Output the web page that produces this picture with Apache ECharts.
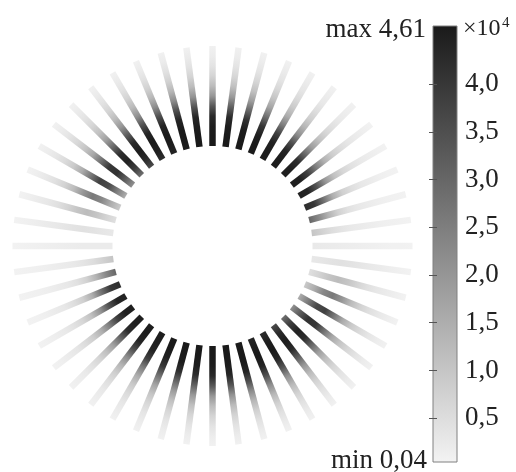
<!DOCTYPE html>
<html>
<head>
<meta charset="utf-8">
<script src="https://cdn.jsdelivr.net/npm/echarts@6/dist/echarts.min.js"></script>
<style>
html, body { margin: 0; padding: 0; background: #fff; }
#main { width: 516px; height: 472px; }
</style>
</head>
<body>
<div id="main"></div>
<script>
// spoke directions, degrees counter-clockwise from east
const angles = [0, 7.5, 15, 22.5, 30, 37.5, 45, 52.5, 60, 67.5, 75, 82.5,
    90, 97.5, 105, 112.5, 120, 127.5, 135, 142.5, 150, 157.5, 165, 172.5,
    180, 187.5, 195, 202.5, 210, 217.5, 225, 232.5, 240, 247.5, 255, 262.5,
    270, 277.5, 285, 292.5, 300, 307.5, 315, 322.5, 330, 337.5, 345, 352.5]

// sample positions along a spoke (radius axis units)
const radii = [100, 110, 120, 130, 140, 150, 160, 170, 180, 190, 200]

// value (x 10^4) at each sample, one row per spoke
const spokeValues = [
    [0.25, 0.22, 0.2, 0.18, 0.16, 0.14, 0.12, 0.1, 0.09, 0.08, 0.06],
    [1.0, 0.75, 0.5, 0.35, 0.26, 0.2, 0.16, 0.13, 0.1, 0.08, 0.06],
    [3.0, 2.3, 1.4, 0.75, 0.42, 0.28, 0.2, 0.15, 0.11, 0.08, 0.06],
    [4.2, 4.0, 2.8, 1.5, 0.8, 0.48, 0.3, 0.2, 0.13, 0.09, 0.06],
    [4.45, 4.4, 3.4, 2.0, 1.1, 0.65, 0.4, 0.25, 0.16, 0.1, 0.07],
    [4.5, 4.5, 3.8, 2.5, 1.45, 0.85, 0.52, 0.32, 0.2, 0.12, 0.07],
    [4.5, 4.5, 4.2, 3.0, 1.8, 1.1, 0.65, 0.4, 0.24, 0.14, 0.08],
    [4.55, 4.55, 4.4, 3.5, 2.2, 1.35, 0.8, 0.48, 0.28, 0.16, 0.08],
    [4.55, 4.55, 4.45, 3.8, 2.5, 1.5, 0.9, 0.55, 0.32, 0.18, 0.08],
    [4.6, 4.6, 4.5, 4.0, 2.8, 1.7, 1.0, 0.6, 0.34, 0.18, 0.08],
    [4.6, 4.6, 4.55, 4.15, 3.0, 1.85, 1.1, 0.65, 0.36, 0.18, 0.08],
    [4.6, 4.6, 4.55, 4.25, 3.15, 1.95, 1.15, 0.68, 0.37, 0.18, 0.08],
    [4.61, 4.6, 4.55, 4.3, 3.3, 2.0, 1.2, 0.7, 0.38, 0.18, 0.08],
    [4.6, 4.6, 4.55, 4.35, 3.4, 2.1, 1.25, 0.72, 0.4, 0.2, 0.08],
    [4.55, 4.6, 4.6, 4.4, 3.5, 2.2, 1.3, 0.75, 0.42, 0.2, 0.08],
    [4.4, 4.55, 4.6, 4.4, 3.5, 2.2, 1.3, 0.75, 0.42, 0.2, 0.08],
    [4.2, 4.5, 4.6, 4.35, 3.4, 2.1, 1.25, 0.72, 0.4, 0.2, 0.08],
    [3.6, 4.3, 4.55, 4.3, 3.2, 2.0, 1.2, 0.7, 0.4, 0.2, 0.08],
    [2.8, 3.9, 4.45, 4.2, 3.0, 1.8, 1.1, 0.65, 0.38, 0.2, 0.08],
    [2.1, 3.2, 4.1, 4.0, 2.8, 1.65, 1.0, 0.6, 0.35, 0.18, 0.08],
    [1.5, 2.5, 3.6, 3.8, 2.7, 1.55, 0.9, 0.55, 0.32, 0.17, 0.08],
    [0.9, 1.5, 2.3, 2.6, 2.0, 1.2, 0.72, 0.45, 0.27, 0.15, 0.07],
    [0.45, 0.7, 1.0, 1.2, 1.0, 0.7, 0.45, 0.3, 0.2, 0.12, 0.07],
    [0.28, 0.32, 0.38, 0.42, 0.38, 0.32, 0.26, 0.2, 0.15, 0.1, 0.07],
    [0.2, 0.2, 0.2, 0.2, 0.19, 0.17, 0.15, 0.13, 0.11, 0.09, 0.06],
    [1.0, 0.75, 0.5, 0.35, 0.26, 0.2, 0.16, 0.13, 0.1, 0.08, 0.06],
    [3.0, 2.3, 1.4, 0.75, 0.42, 0.28, 0.2, 0.15, 0.11, 0.08, 0.06],
    [4.2, 4.0, 2.8, 1.5, 0.8, 0.48, 0.3, 0.2, 0.13, 0.09, 0.06],
    [4.45, 4.4, 3.4, 2.0, 1.1, 0.65, 0.4, 0.25, 0.16, 0.1, 0.07],
    [4.5, 4.5, 3.8, 2.5, 1.45, 0.85, 0.52, 0.32, 0.2, 0.12, 0.07],
    [4.5, 4.5, 4.2, 3.0, 1.8, 1.1, 0.65, 0.4, 0.24, 0.14, 0.08],
    [4.55, 4.55, 4.4, 3.5, 2.2, 1.35, 0.8, 0.48, 0.28, 0.16, 0.08],
    [4.55, 4.55, 4.45, 3.8, 2.5, 1.5, 0.9, 0.55, 0.32, 0.18, 0.08],
    [4.6, 4.6, 4.5, 4.0, 2.8, 1.7, 1.0, 0.6, 0.34, 0.18, 0.08],
    [4.6, 4.6, 4.55, 4.15, 3.0, 1.85, 1.1, 0.65, 0.36, 0.18, 0.08],
    [4.6, 4.6, 4.55, 4.25, 3.15, 1.95, 1.15, 0.68, 0.37, 0.18, 0.08],
    [4.61, 4.6, 4.55, 4.3, 3.3, 2.0, 1.2, 0.7, 0.38, 0.18, 0.08],
    [4.6, 4.6, 4.55, 4.35, 3.4, 2.1, 1.25, 0.72, 0.4, 0.2, 0.08],
    [4.55, 4.6, 4.6, 4.4, 3.5, 2.2, 1.3, 0.75, 0.42, 0.2, 0.08],
    [4.4, 4.55, 4.6, 4.4, 3.5, 2.2, 1.3, 0.75, 0.42, 0.2, 0.08],
    [4.2, 4.5, 4.6, 4.35, 3.4, 2.1, 1.25, 0.72, 0.4, 0.2, 0.08],
    [3.6, 4.3, 4.55, 4.3, 3.2, 2.0, 1.2, 0.7, 0.4, 0.2, 0.08],
    [2.8, 3.9, 4.45, 4.2, 3.0, 1.8, 1.1, 0.65, 0.38, 0.2, 0.08],
    [2.1, 3.2, 4.1, 4.0, 2.8, 1.65, 1.0, 0.6, 0.35, 0.18, 0.08],
    [1.5, 2.5, 3.6, 3.8, 2.7, 1.55, 0.9, 0.55, 0.32, 0.17, 0.08],
    [0.9, 1.5, 2.3, 2.6, 2.0, 1.2, 0.72, 0.45, 0.27, 0.15, 0.07],
    [0.45, 0.7, 1.0, 1.2, 1.0, 0.7, 0.45, 0.3, 0.2, 0.12, 0.07],
    [0.28, 0.32, 0.38, 0.42, 0.38, 0.32, 0.26, 0.2, 0.15, 0.1, 0.07]
]

const colorbarTicks = [0.5, 1.0, 1.5, 2.0, 2.5, 3.0, 3.5, 4.0]
const valueMin = 0.04
const valueMax = 4.61
const grays = ['#f3f3f3', '#1a1a1a']
const serif = '"Liberation Serif", "Times New Roman", serif'

// [radius, angle, value, sample index]
const points = []
angles.forEach((a, i) => {
    radii.forEach((r, j) => {
        points.push([r, a, spokeValues[i][j], j])
    })
})

// one stroke per spoke, coloured by the visualMap colours of its samples
function renderSpoke(params, api) {
    if (api.value(3) !== 0) return null
    const first = params.dataIndexInside
    const a = api.value(1)
    const r0 = radii[0]
    const rN = radii[radii.length - 1]
    const p0 = api.coord([r0, a])
    const p1 = api.coord([rN, a])
    const stops = radii.map((r, j) => ({
        offset: (r - r0) / (rN - r0),
        color: api.visual('color', first + j)
    }))
    return {
        type: 'line',
        shape: {x1: p0[0], y1: p0[1], x2: p1[0], y2: p1[1]},
        style: {
            stroke: new echarts.graphic.LinearGradient(p0[0], p0[1], p1[0], p1[1], stops, true),
            lineWidth: 6.5,
            lineCap: 'butt'
        }
    }
}

const chart = echarts.init(document.getElementById('main'))
const tickStyle = {show: true, inside: true, length: 4, customValues: colorbarTicks, lineStyle: {color: '#555', width: 1}}

chart.setOption({
    animation: false,
    backgroundColor: '#fff',
    polar: {center: [212.5, 246], radius: 202},
    angleAxis: {type: 'value', min: 0, max: 360, startAngle: 0, clockwise: false, show: false},
    radiusAxis: {type: 'value', min: 0, max: 202, show: false},
    visualMap: {
        type: 'continuous',
        show: false,
        min: valueMin,
        max: valueMax,
        dimension: 2,
        seriesIndex: 0,
        inRange: {color: grays}
    },
    grid: {
        left: 433, top: 26, width: 24, height: 436,
        show: true,
        borderColor: '#808080',
        borderWidth: 1,
        backgroundColor: {
            type: 'linear', x: 0, y: 0, x2: 0, y2: 1,
            colorStops: [{offset: 0, color: grays[1]}, {offset: 1, color: grays[0]}]
        }
    },
    xAxis: {type: 'value', show: false, min: 0, max: 1},
    yAxis: [
        {
            type: 'value', position: 'right', min: valueMin, max: valueMax,
            axisLine: {show: false},
            splitLine: {show: false},
            axisTick: tickStyle,
            axisLabel: {
                customValues: colorbarTicks,
                formatter: v => v.toFixed(1).replace('.', ','),
                fontFamily: serif, fontSize: 27, color: '#222', margin: 8
            }
        },
        {
            type: 'value', position: 'left', min: valueMin, max: valueMax,
            axisLine: {show: false},
            splitLine: {show: false},
            axisTick: tickStyle,
            axisLabel: {show: false}
        }
    ],
    graphic: [
        {type: 'text', x: 426, y: 30, style: {text: 'max 4,61', fontFamily: serif, fontSize: 27, fill: '#222', align: 'right', verticalAlign: 'middle'}},
        {type: 'text', x: 427, y: 461, style: {text: 'min 0,04', fontFamily: serif, fontSize: 27, fill: '#222', align: 'right', verticalAlign: 'middle'}},
        {type: 'text', x: 463, y: 29, style: {text: '×10', fontFamily: serif, fontSize: 24, fill: '#222', align: 'left', verticalAlign: 'middle'}},
        {type: 'text', x: 502, y: 23, style: {text: '4', fontFamily: serif, fontSize: 15, fill: '#222', align: 'left', verticalAlign: 'middle'}}
    ],
    series: [{
        type: 'custom',
        coordinateSystem: 'polar',
        renderItem: renderSpoke,
        data: points,
        silent: true
    }]
})
window.addEventListener('resize', () => chart.resize())
</script>
</body>
</html>
